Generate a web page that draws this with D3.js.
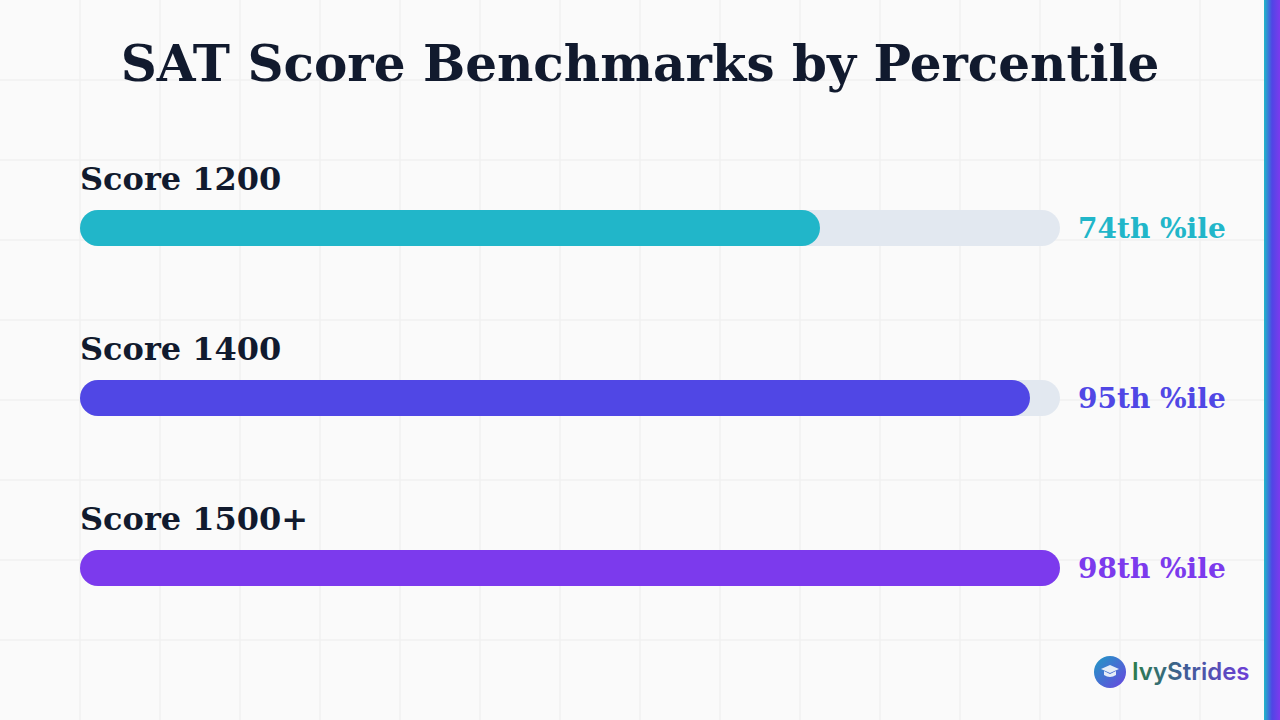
<!DOCTYPE html>
<html>
<head>
<meta charset="utf-8">
<script src="https://cdn.jsdelivr.net/npm/d3@7"></script>
<style>
  html, body { margin: 0; padding: 0; background: #fafafa; }
  svg { display: block; }
</style>
</head>
<body>
<script>
// data
var labels = ["Score 1200", "Score 1400", "Score 1500+"];
var percentiles = [74, 95, 98];
var pctLabels = ["74th %ile", "95th %ile", "98th %ile"];
var barColors = ["#21b6c9", "#5047e5", "#7c3aed"];

var W = 1280, H = 720;

var svg = d3.select("body")
  .append("svg")
  .attr("width", W)
  .attr("height", H);

var defs = svg.append("defs");

var stripeGrad = defs.append("linearGradient").attr("id", "stripe")
  .attr("x1", "0%").attr("x2", "100%").attr("y1", "0%").attr("y2", "0%");
stripeGrad.append("stop").attr("offset", "0%").attr("stop-color", "#1fb8c8");
stripeGrad.append("stop").attr("offset", "50%").attr("stop-color", "#4f46e5");
stripeGrad.append("stop").attr("offset", "100%").attr("stop-color", "#7c3aed");

var logoGrad = defs.append("linearGradient").attr("id", "logoCircle")
  .attr("x1", "0%").attr("x2", "100%").attr("y1", "0%").attr("y2", "100%");
logoGrad.append("stop").attr("offset", "0%").attr("stop-color", "#1f9bc4");
logoGrad.append("stop").attr("offset", "100%").attr("stop-color", "#6a45e0");

var textGrad = defs.append("linearGradient").attr("id", "logoText")
  .attr("gradientUnits", "userSpaceOnUse")
  .attr("x1", 1132).attr("x2", 1248).attr("y1", 0).attr("y2", 0);
textGrad.append("stop").attr("offset", "0%").attr("stop-color", "#2b7d4c");
textGrad.append("stop").attr("offset", "45%").attr("stop-color", "#3f5e96");
textGrad.append("stop").attr("offset", "100%").attr("stop-color", "#6d3fd6");

// background + grid
svg.append("rect").attr("width", W).attr("height", H).attr("fill", "#fafafa");

var grid = svg.append("g").attr("stroke", "#f0f0f0").attr("stroke-width", 1.5);
grid.selectAll("line.v")
  .data(d3.range(80, W, 80))
  .enter().append("line")
    .attr("x1", function(d) { return d; }).attr("x2", function(d) { return d; })
    .attr("y1", 0).attr("y2", H);
grid.selectAll("line.h")
  .data(d3.range(80, H, 80))
  .enter().append("line")
    .attr("y1", function(d) { return d; }).attr("y2", function(d) { return d; })
    .attr("x1", 0).attr("x2", W);

// right stripe
svg.append("rect").attr("x", 1264).attr("y", 0).attr("width", 16).attr("height", H)
  .attr("fill", "url(#stripe)");

// title
svg.append("text")
  .attr("x", 640).attr("y", 81)
  .attr("text-anchor", "middle")
  .attr("font-family", "DejaVu Serif")
  .attr("font-weight", "bold")
  .attr("font-size", 50)
  .attr("fill", "#111a2e")
  .text("SAT Score Benchmarks by Percentile");

// scales
var x = d3.scaleLinear().domain([0, 100]).range([0, 1000]);
var y = d3.scaleBand().domain(labels).range([210, 720]).paddingInner(0).paddingOuter(0);
var barH = 36, trackW = 980, left = 80;

var rows = svg.selectAll("g.row")
  .data(labels)
  .enter().append("g")
    .attr("class", "row")
    .attr("transform", function(d) { return "translate(" + left + "," + y(d) + ")"; });

rows.append("text")
  .attr("x", 0).attr("y", -20)
  .attr("font-family", "DejaVu Serif")
  .attr("font-weight", "bold")
  .attr("font-size", 32)
  .attr("fill", "#111a2e")
  .text(function(d) { return d; });

rows.append("rect")
  .attr("width", trackW).attr("height", barH)
  .attr("rx", barH / 2)
  .attr("fill", "#e2e8f0");

rows.append("rect")
  .attr("width", function(d, i) { return x(percentiles[i]); })
  .attr("height", barH)
  .attr("rx", barH / 2)
  .attr("fill", function(d, i) { return barColors[i]; });

rows.append("text")
  .attr("x", trackW + 18).attr("y", barH / 2 + 10)
  .attr("font-family", "DejaVu Serif")
  .attr("font-weight", "bold")
  .attr("font-size", 28)
  .attr("fill", function(d, i) { return barColors[i]; })
  .text(function(d, i) { return pctLabels[i]; });

// logo
var logo = svg.append("g");
logo.append("circle").attr("cx", 1110).attr("cy", 672).attr("r", 16)
  .attr("fill", "url(#logoCircle)");
// grad cap
logo.append("path")
  .attr("d", "M1101,669 L1110,665 L1119,669 L1110,673 Z")
  .attr("fill", "#e6edf7");
logo.append("path")
  .attr("d", "M1104,671 L1104,675 Q1110,679 1116,675 L1116,671 L1110,674 Z")
  .attr("fill", "#e6edf7");
logo.append("text")
  .attr("x", 1132).attr("y", 680)
  .attr("font-family", "Inter")
  .attr("font-weight", 600)
  .attr("font-size", 24)
  .attr("fill", "url(#logoText)")
  .text("IvyStrides");
</script>
</body>
</html>
